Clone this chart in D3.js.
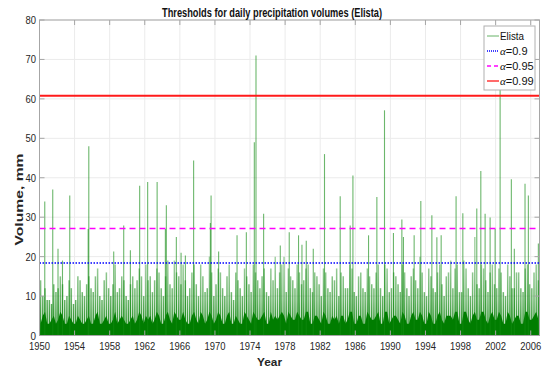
<!DOCTYPE html>
<html>
<head>
<meta charset="utf-8">
<script src="https://cdn.jsdelivr.net/npm/d3@7"></script>
<style>
  body { margin: 0; background: #fff; }
  text { font-family: "Liberation Sans", Arial, sans-serif; }
</style>
</head>
<body>
<div id="chart"></div>
<script>
  var width = 557;
  var height = 371;
  var margin = { "top": 20, "bottom": 35.5, "right": 17.5, "left": 39.5 };

  // x ticks (years)
  var yearTicks = [1950, 1954, 1958, 1962, 1966, 1970, 1974, 1978, 1982, 1986, 1990, 1994, 1998, 2002, 2006];
  var volTicks = [0, 10, 20, 30, 40, 50, 60, 70, 80];

  // threshold levels, mm
  var alphas = ["0.9", "0.95", "0.99"];
  var thresholds = [18.4, 27.1, 60.8];

  // notable daily maxima: [year, mm]
  var spikes = [
    [1950.60, 34], [1951.51, 37], [1952.11, 22], [1952.62, 19], [1953.45, 35.5],
    [1955.55, 27], [1955.62, 48], [1958.46, 21.3], [1959.60, 27.9], [1960.36, 21.6],
    [1961.42, 38], [1962.33, 38.9], [1963.41, 38.9], [1964.35, 27], [1964.46, 33],
    [1965.60, 25], [1966.14, 21], [1966.63, 20.3], [1967.57, 44.4], [1969.48, 28.5],
    [1969.56, 35.5], [1970.42, 21.3], [1972.52, 25.4], [1973.58, 26.2], [1974.49, 49],
    [1974.68, 71], [1975.55, 30.9], [1977.45, 22.8], [1978.47, 26.2], [1979.53, 25.4],
    [1979.92, 23], [1980.41, 24], [1981.21, 22], [1982.49, 46], [1984.28, 35.3],
    [1985.42, 27.9], [1985.73, 40.6], [1987.51, 25.4], [1988.46, 35.1], [1989.33, 57.1],
    [1990.35, 26], [1991.31, 29.4], [1991.49, 25], [1992.71, 25.4], [1993.47, 34.1],
    [1994.73, 30.5], [1995.30, 24.9], [1995.79, 25.4], [1997.49, 35.3], [1998.26, 31],
    [1999.85, 32.2], [2000.31, 41.7], [2000.80, 30.9], [2001.37, 29.9], [2001.94, 27],
    [2002.51, 62.7], [2003.79, 39.6], [2004.13, 22], [2005.35, 38.5], [2005.73, 35.5],
    [2006.87, 23.3]
  ];

  // quarterly maximum of the rest of the daily series, 1950 Q1 .. 2006 Q4 (mm)
  var qMax = [
    14, 10, 12, 9,   9, 8, 13, 11,   12, 15, 13, 9,   10, 14, 12, 8,   9, 15, 14, 11,
    10, 13, 15, 12,  11, 15, 17, 10,  9, 14, 16, 12,  10, 13, 18, 11,  12, 15, 14, 10,
    9, 13, 15, 12,   14, 17, 15, 10,  18, 14, 15, 11,  14, 17, 16, 12,  10, 15, 19, 13,
    12, 19, 16, 15,  13, 18, 14, 10,  12, 16, 18, 13,  10, 18, 15, 11,  12, 20, 16, 10,
    13, 17, 16, 12,  10, 15, 18, 11,  9, 16, 14, 12,   10, 17, 15, 13,  11, 18, 16, 14,
    12, 15, 17, 11,  10, 17, 14, 20,  12, 16, 18, 20,  11, 17, 15, 14,  12, 18, 16, 13,
    14, 17, 18, 12,  11, 16, 15, 13,  10, 17, 16, 12,  11, 15, 14, 17,  10, 16, 15, 12,
    12, 18, 17, 11,  10, 15, 16, 12,  11, 17, 15, 13,  12, 16, 18, 12,  10, 18, 17, 11,
    12, 16, 15, 13,  11, 18, 16, 12,  10, 15, 17, 14,  12, 20, 16, 11,  10, 17, 15, 12,
    11, 16, 18, 13,  10, 15, 16, 19,  12, 17, 18, 11,  11, 19, 17, 12,  10, 16, 25, 13,
    12, 18, 17, 14,  11, 16, 18, 13,  12, 17, 16, 11,  10, 18, 15, 12,  12, 16, 16, 12,
    11, 17, 18, 13,  12, 16, 18, 14
  ];

  // height of the dense dark band per quarter (mm)
  var qDense = [
    3, 5, 6, 3,   3, 4, 5, 3,   4, 6, 5, 3,   3, 5, 4, 3,   3, 5, 4, 3,
    3, 4, 5, 3,   3, 5, 6, 3,   3, 4, 5, 3,   3, 4, 6, 3,   4, 5, 4, 3,
    3, 4, 5, 3,   4, 6, 5, 3,   5, 4, 5, 3,   4, 6, 5, 3,   3, 5, 6, 4,
    3, 6, 5, 4,   4, 6, 4, 3,   3, 5, 6, 4,   3, 6, 5, 3,   4, 6, 5, 3,
    4, 6, 5, 3,   3, 5, 6, 3,   3, 5, 4, 3,   3, 6, 5, 4,   3, 6, 5, 4,
    4, 5, 6, 3,   3, 6, 4, 5,   4, 5, 6, 5,   3, 6, 5, 4,   4, 6, 5, 4,
    4, 6, 6, 3,   3, 5, 5, 4,   3, 6, 5, 3,   3, 5, 4, 5,   3, 5, 5, 3,
    4, 6, 6, 3,   3, 5, 5, 3,   3, 6, 5, 4,   4, 5, 6, 3,   3, 6, 6, 3,
    4, 5, 5, 4,   3, 6, 5, 3,   3, 5, 6, 4,   4, 6, 5, 3,   3, 6, 5, 3,
    3, 5, 6, 4,   3, 5, 5, 5,   4, 6, 6, 3,   3, 6, 6, 4,   3, 5, 6, 4,
    4, 6, 6, 4,   3, 5, 6, 4,   4, 6, 5, 3,   3, 6, 5, 3,   4, 5, 5, 3,
    3, 6, 6, 4,   4, 5, 6, 4
  ];

  var svg = d3.select("#chart")
              .append("svg")
              .attr("width", width)
              .attr("height", height);

  var xScale = d3.scaleLinear()
    .domain([1950, 2007])
    .range([margin.left, width - margin.right]);

  var yScale = d3.scaleLinear()
    .domain([0, 80])
    .range([height - margin.bottom, margin.top]);

  var x0 = margin.left, x1 = width - margin.right;
  var y0 = height - margin.bottom, y1 = margin.top;

  // fade of the daily spikes: dense near zero, sparse higher up
  var grad = svg.append("defs").append("linearGradient")
    .attr("id", "fade")
    .attr("gradientUnits", "userSpaceOnUse")
    .attr("x1", 0).attr("x2", 0)
    .attr("y1", yScale(0)).attr("y2", yScale(20));
  grad.append("stop").attr("offset", 0).attr("stop-color", "#007a00").attr("stop-opacity", 0.95);
  grad.append("stop").attr("offset", 0.45).attr("stop-color", "#008000").attr("stop-opacity", 0.6);
  grad.append("stop").attr("offset", 1).attr("stop-color", "#008000").attr("stop-opacity", 0.35);

  // grid
  svg.append("g").selectAll("line.vg")
    .data(yearTicks).enter().append("line")
    .attr("x1", d => xScale(d)).attr("x2", d => xScale(d))
    .attr("y1", y0).attr("y2", y1)
    .attr("stroke", "#ebebeb").attr("stroke-width", 1);
  svg.append("g").selectAll("line.hg")
    .data(volTicks).enter().append("line")
    .attr("x1", x0).attr("x2", x1)
    .attr("y1", d => yScale(d)).attr("y2", d => yScale(d))
    .attr("stroke", "#ebebeb").attr("stroke-width", 1);

  var plot = svg.append("g");

  // quarterly series
  var quarters = qMax.map(function(v, i) {
    return { t: 1950 + (i + 0.5) / 4, max: v, dense: qDense[i] };
  });

  plot.append("g").selectAll("line")
    .data(quarters).enter().append("line")
    .attr("x1", d => xScale(d.t)).attr("x2", d => xScale(d.t))
    .attr("y1", yScale(0)).attr("y2", d => yScale(d.max))
    .attr("stroke", "url(#fade)")
    .attr("stroke-width", 1.5);

  plot.append("path")
    .datum(quarters)
    .attr("fill", "#007d00")
    .attr("d", d3.area()
      .x(d => xScale(d.t))
      .y0(yScale(0))
      .y1(d => yScale(d.dense)));

  plot.append("g").selectAll("line")
    .data(spikes).enter().append("line")
    .attr("x1", d => xScale(d[0])).attr("x2", d => xScale(d[0]))
    .attr("y1", yScale(0)).attr("y2", d => yScale(d[1]))
    .attr("stroke", "#118a11").attr("stroke-opacity", 0.62)
    .attr("stroke-width", 1.1);

  // thresholds
  var thrStyle = [
    { color: "#0000ff", dash: "1.5,1.5" },
    { color: "#ff00ff", dash: "6,4" },
    { color: "#ff1a1a", dash: null }
  ];
  plot.append("g").selectAll("line")
    .data(thresholds).enter().append("line")
    .attr("x1", x0).attr("x2", x1)
    .attr("y1", d => yScale(d)).attr("y2", d => yScale(d))
    .attr("stroke", (d, i) => thrStyle[i].color)
    .attr("stroke-dasharray", (d, i) => thrStyle[i].dash)
    .attr("stroke-width", (d, i) => i == 2 ? 1.9 : 1.5);

  // axes box and ticks
  var axCol = "#a6a6a6";
  svg.append("rect")
    .attr("x", x0).attr("y", y1)
    .attr("width", x1 - x0).attr("height", y0 - y1)
    .attr("fill", "none").attr("stroke", axCol).attr("stroke-width", 1);

  var tk = svg.append("g").attr("stroke", axCol);
  yearTicks.forEach(function(d) {
    tk.append("line").attr("x1", xScale(d)).attr("x2", xScale(d)).attr("y1", y0).attr("y2", y0 - 5);
    tk.append("line").attr("x1", xScale(d)).attr("x2", xScale(d)).attr("y1", y1).attr("y2", y1 + 5);
  });
  volTicks.forEach(function(d) {
    tk.append("line").attr("x1", x0).attr("x2", x0 + 5).attr("y1", yScale(d)).attr("y2", yScale(d));
    tk.append("line").attr("x1", x1).attr("x2", x1 - 5).attr("y1", yScale(d)).attr("y2", yScale(d));
  });

  svg.append("g").selectAll("text")
    .data(yearTicks).enter().append("text")
    .attr("x", d => xScale(d)).attr("y", 350)
    .attr("text-anchor", "middle")
    .attr("font-size", "11px").attr("fill", "#262626")
    .attr("textLength", 21).attr("lengthAdjust", "spacingAndGlyphs")
    .text(d => d);

  svg.append("g").selectAll("text")
    .data(volTicks).enter().append("text")
    .attr("x", x0 - 3.5).attr("y", d => yScale(d) + 4)
    .attr("text-anchor", "end")
    .attr("font-size", "11px").attr("fill", "#262626")
    .attr("textLength", d => d == 0 ? 5.5 : 10.5).attr("lengthAdjust", "spacingAndGlyphs")
    .text(d => d);

  svg.append("text")
    .attr("x", 272).attr("y", 17)
    .attr("text-anchor", "middle")
    .attr("font-size", "12px").attr("font-weight", "bold").attr("fill", "#111")
    .attr("textLength", 220).attr("lengthAdjust", "spacingAndGlyphs")
    .text("Thresholds for daily precipitation volumes (Elista)");

  svg.append("text")
    .attr("x", 269.5).attr("y", 366)
    .attr("text-anchor", "middle")
    .attr("font-size", "11.5px").attr("font-weight", "bold").attr("fill", "#262626")
    .attr("textLength", 25).attr("lengthAdjust", "spacingAndGlyphs")
    .text("Year");

  svg.append("text")
    .attr("transform", "translate(22.5,199.5) rotate(-90)")
    .attr("text-anchor", "middle")
    .attr("font-size", "11px").attr("font-weight", "bold").attr("fill", "#262626")
    .attr("textLength", 92).attr("lengthAdjust", "spacingAndGlyphs")
    .text("Volume, mm");

  // legend
  var lg = svg.append("g").attr("transform", "translate(484,26)");
  lg.append("rect")
    .attr("width", 51).attr("height", 64)
    .attr("fill", "#fff").attr("stroke", "#b0b0b0").attr("stroke-width", 1);
  var items = [{ color: "#008000", dash: null, op: 0.6 }].concat(thrStyle.map(s => ({ color: s.color, dash: s.dash, op: 1 })));
  items.forEach(function(it, i) {
    var yy = 10 + i * 15;
    lg.append("line")
      .attr("x1", 3).attr("x2", 15).attr("y1", yy).attr("y2", yy)
      .attr("stroke", it.color).attr("stroke-opacity", it.op)
      .attr("stroke-dasharray", it.dash ? (i == 2 ? "4,3" : "1,1") : null)
      .attr("stroke-width", i == 0 ? 1 : 1.3);
    var t = lg.append("text").attr("x", 16).attr("y", yy + 4)
      .attr("font-size", "11px").attr("fill", "#111");
    if (i == 0) {
      t.attr("textLength", 24).attr("lengthAdjust", "spacingAndGlyphs").text("Elista");
    } else {
      t.append("tspan").attr("font-family", "'Liberation Serif', serif").attr("font-style", "italic").text("\u03b1");
      t.append("tspan").text("=" + alphas[i - 1]);
    }
  });
</script>
</body>
</html>
